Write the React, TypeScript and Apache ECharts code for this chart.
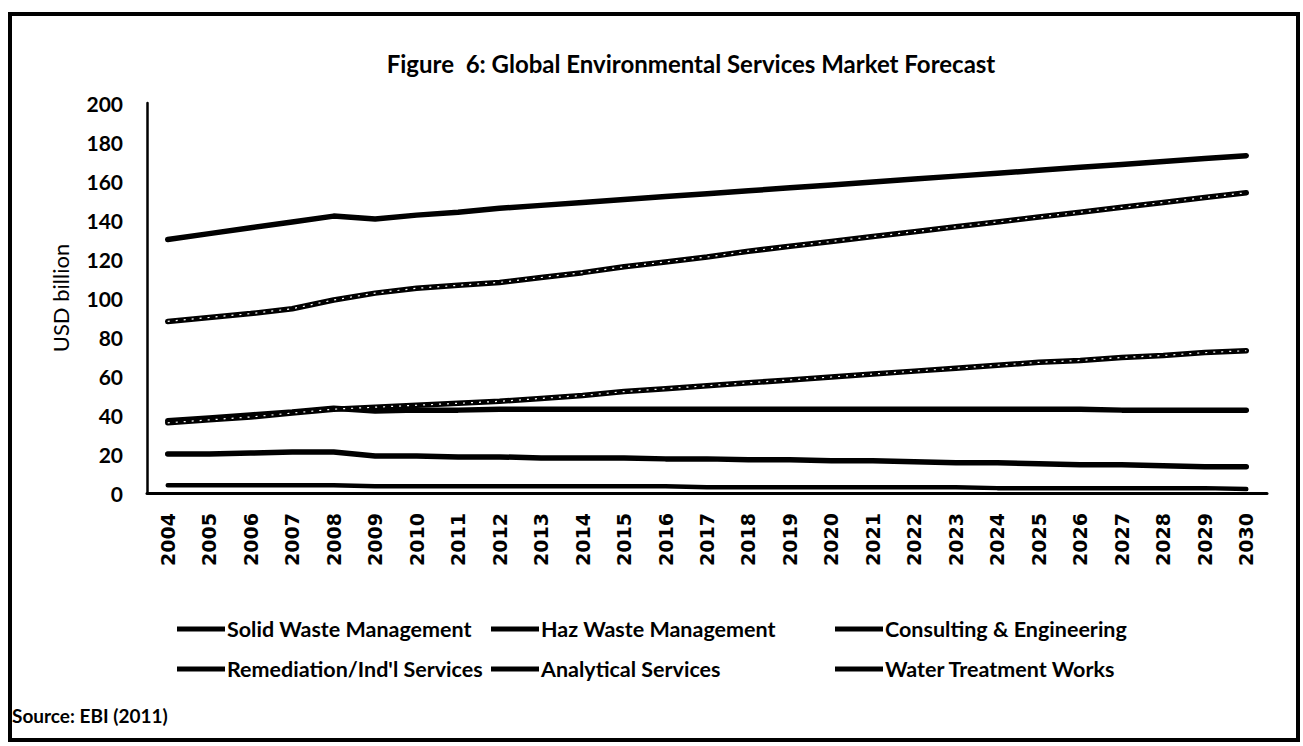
import React, { useEffect, useRef } from "react";
import * as echarts from "echarts";

const years = ["2004","2005","2006","2007","2008","2009","2010","2011","2012","2013","2014","2015","2016","2017","2018","2019","2020","2021","2022","2023","2024","2025","2026","2027","2028","2029","2030"];
const solidWaste = [130,133,136,139,142,140.5,142.5,144,146,147.5,149,150.5,152,153.5,155,156.5,158,159.5,161,162.5,164,165.5,167,168.5,170,171.5,173];
const hazWaste = [20,20,20.5,21,21,19,19,18.5,18.5,18,18,18,17.5,17.5,17,17,16.5,16.5,16,15.5,15.5,15,14.5,14.5,14,13.5,13.5];
const consulting = [36,37.5,39,41,43,44,45,46,47,48.5,50,52,53.5,55,56.5,58,59.5,61,62.5,64,65.5,67,68,69.5,70.5,72,73];
const remediation = [37,38.5,40,41.5,43.5,42,42.5,42.5,43,43,43,43,43,43,43,43,43,43,43,43,43,43,43,42.5,42.5,42.5,42.5];
const analytical = [4,4,4,4,4,3.5,3.5,3.5,3.5,3.5,3.5,3.5,3.5,3,3,3,3,3,3,3,2.5,2.5,2.5,2.5,2.5,2.5,2];
const water = [88,90,92,94.5,99,102.5,105,106.5,108,110.5,113,116,118.5,121,124,126.5,129,131.5,134,136.5,139,141.5,144,146.5,149,151.5,154];

const yTicks = { min: 0, max: 200, interval: 20 };

export default function App() {
  const ref = useRef<HTMLDivElement>(null);
  useEffect(() => {
    document.body.style.margin = "0";
    const chart = echarts.init(ref.current!, undefined, { renderer: "svg" });
    const font = "Lato, 'Open Sans', sans-serif";
    const mainLine = (name: string, data: number[], w = 5.5) => ({
      name,
      type: "line",
      data,
      showSymbol: false,
      symbol: "none",
      lineStyle: { color: "#000", width: w, cap: "round", join: "round" },
      itemStyle: { color: "#000" },
      z: 2,
    });
    const overlay = (name: string, data: number[]) => ({
      name,
      type: "line",
      data,
      showSymbol: false,
      symbol: "none",
      silent: true,
      lineStyle: { color: "#fff", width: 1.2, type: [2, 6] },
      z: 3,
    });
    const legendBase = {
      orient: "vertical",
      top: 613,
      itemWidth: 48,
      itemHeight: 5,
      itemGap: 18,
      icon: "rect",
      textStyle: { fontFamily: font, fontWeight: "bold", fontSize: 21.5, color: "#000", padding: [0, 0, 0, -3] },
      itemStyle: { color: "#000" },
    };
    chart.setOption({
      animation: false,
      backgroundColor: "#fff",
      title: {
        text: "Figure  6: Global Environmental Services Market Forecast",
        left: 686,
        textAlign: "center",
        top: 46,
        textStyle: { fontFamily: font, fontWeight: "bold", fontSize: 24, color: "#000" },
      },
      legend: [
        { ...legendBase, left: 172, data: ["Solid Waste Management", "Remediation/Ind'l Services"] },
        { ...legendBase, left: 486, data: ["Haz Waste Management", "Analytical Services"] },
        { ...legendBase, left: 830, data: ["Consulting & Engineering", "Water Treatment Works"] },
      ],
      grid: { left: 147, right: 36, top: 103, bottom: 253, containLabel: false },
      xAxis: {
        type: "category",
        data: years,
        boundaryGap: true,
        axisLine: { show: true, lineStyle: { color: "#000", width: 3 } },
        axisTick: { show: false },
        splitLine: { show: false },
        axisLabel: {
          interval: 0,
          rotate: 90,
          margin: 20,
          fontFamily: "'DejaVu Sans', sans-serif",
          fontWeight: "bold",
          fontSize: 19,
          color: "#000",
        },
      },
      yAxis: {
        type: "value",
        ...yTicks,
        name: "USD billion",
        nameLocation: "middle",
        nameGap: 76,
        nameTextStyle: { fontFamily: font, fontSize: 22, color: "#000" },
        axisLine: { show: true, lineStyle: { color: "#000", width: 2.5 } },
        axisTick: { show: false },
        splitLine: { show: false },
        axisLabel: { margin: 24, fontFamily: font, fontWeight: "bold", fontSize: 21, color: "#000" },
      },
      graphic: [
        { type: "rect", shape: { x: 10, y: 14, width: 1288, height: 726 }, style: { fill: "none", stroke: "#000", lineWidth: 4 }, silent: true },
        {
          type: "text",
          left: 12,
          top: 706,
          style: { text: "Source: EBI (2011)", fontFamily: font, fontWeight: "bold", fontSize: 19, fill: "#000" },
        },
      ],
      series: [
        mainLine("Solid Waste Management", solidWaste),
        mainLine("Haz Waste Management", hazWaste),
        mainLine("Consulting & Engineering", consulting),
        mainLine("Remediation/Ind'l Services", remediation),
        mainLine("Analytical Services", analytical, 4.5),
        mainLine("Water Treatment Works", water),
        overlay("Consulting & Engineering (inner)", consulting),
        overlay("Water Treatment Works (inner)", water),
      ],
    });
    return () => chart.dispose();
  }, []);
  return <div ref={ref} style={{ width: 1303, height: 746 }} />;
}
